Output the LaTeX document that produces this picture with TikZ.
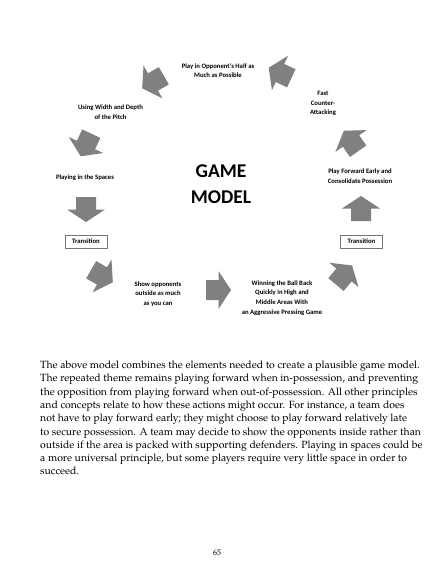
\documentclass[tikz,border=0pt]{standalone}
\usepackage{fontspec}
\setmainfont{Carlito}
\newfontfamily\bodyfont{TeX Gyre Pagella}
\begin{document}
\begin{tikzpicture}[x=1bp,y=-1bp,
  lbl/.style={font=\fontsize{6.7bp}{9.8bp}\selectfont\bfseries, align=center, inner sep=0pt},
  title/.style={font=\fontsize{19.5bp}{22bp}\selectfont\bfseries, inner sep=0pt},
  trans/.style={draw=black!55, line width=0.6bp, minimum width=42bp, minimum height=13bp, inner sep=0pt, font=\fontsize{6.7bp}{8bp}\selectfont\bfseries},
  body/.style={font=\fontsize{10.45bp}{13.3bp}\selectfont\bodyfont, anchor=base west, inner sep=0pt},
  blockarrow/.style={fill=black!50}
]
\useasboundingbox[fill=white] (0,0) rectangle (433,575);

\newcommand\blkarrow[3]{%
  \fill[blockarrow, shift={(#1,#2)}, rotate=-#3]
    (-12.5,-10) -- (0,-10) -- (0,-19) -- (12.5,0) -- (0,19) -- (0,10) -- (-12.5,10) -- cycle;}

% labels
\node[lbl] (opp) at (218,70.5) {Play in Opponent’s Half as\\Much as Possible};
\node[lbl] (fast) at (323,103.5) {Fast\\Counter-\\Attacking};
\node[lbl] (width) at (110.5,112) {Using Width and Depth\\of the Pitch};
\node[lbl] (spaces) at (85,178) {Playing in the Spaces};
\node[lbl] (fwd) at (360,176.5) {Play Forward Early and\\Consolidate Possession};
\node[lbl] (show) at (158,294) {Show opponents\\outside as much\\as you can};
\node[lbl] (win) at (282,298) {Winning the Ball Back\\Quickly in High and\\Middle Areas With\\an Aggressive Pressing Game};
\node[title] (game) at (221,171) {GAME};
\node[title] (model) at (221,197) {MODEL};
\node[trans] (tl) at (86,241.5) {Transition};
\node[trans] (tr) at (361.5,241.5) {Transition};

% block arrows
\blkarrow{153}{82}{150}
\blkarrow{86}{145}{115}
\blkarrow{86}{209.5}{90}
\blkarrow{102}{276}{30}
\blkarrow{218.5}{290}{0}
\blkarrow{344}{275}{-50}
\blkarrow{361}{208.5}{-90}
\blkarrow{351}{141}{-125}
\blkarrow{280}{73}{-155}

% body text
\node[body] (l1) at (40,368.5) {The above model combines the elements needed to create a plausible game model.};
\node[body] (l2) at (40,381.8) {The repeated theme remains playing forward when in-possession, and preventing};
\node[body] (l3) at (40,395.1) {the opposition from playing forward when out-of-possession. All other principles};
\node[body] (l4) at (40,408.4) {and concepts relate to how these actions might occur. For instance, a team does};
\node[body] (l5) at (40,421.7) {not have to play forward early; they might choose to play forward relatively late};
\node[body] (l6) at (40,435.0) {to secure possession. A team may decide to show the opponents inside rather than};
\node[body] (l7) at (40,448.3) {outside if the area is packed with supporting defenders. Playing in spaces could be};
\node[body] (l8) at (40,461.6) {a more universal principle, but some players require very little space in order to};
\node[body] (l9) at (40,474.9) {succeed.};

\node[font=\fontsize{8bp}{9bp}\selectfont\bodyfont, inner sep=0pt] (pg) at (217,553) {65};
\end{tikzpicture}
\end{document}
